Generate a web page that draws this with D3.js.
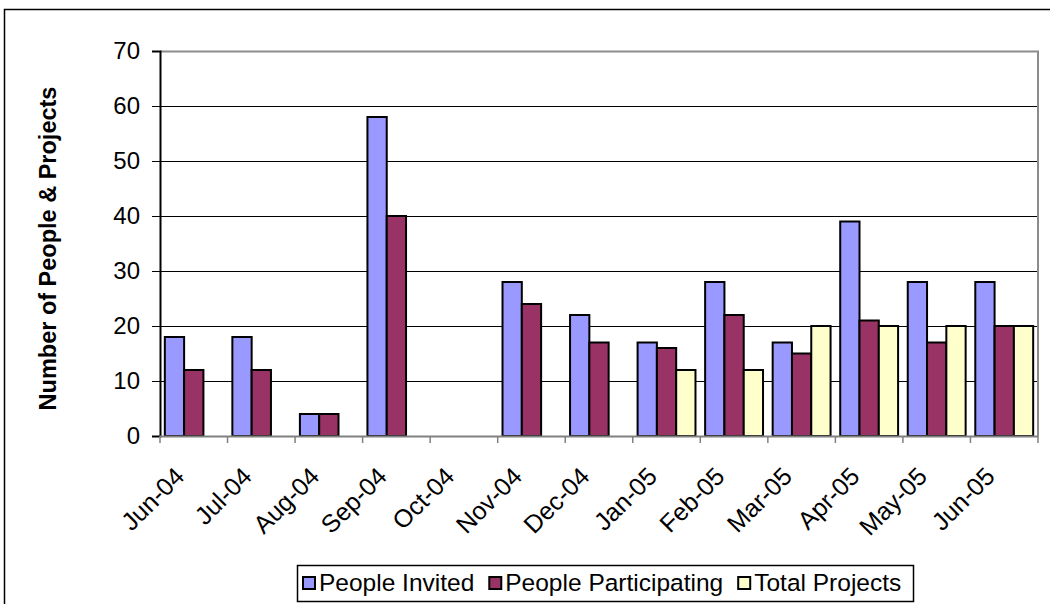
<!DOCTYPE html>
<html>
<head>
<meta charset="utf-8">
<script src="https://cdn.jsdelivr.net/npm/d3@7"></script>
<style>
  body { margin: 0; background: #fff; }
  svg { display: block; font-family: Arial, "Liberation Sans", sans-serif; }
</style>
</head>
<body>
<svg id="chart" width="1050" height="604"></svg>
<script>
// chart data
var months = ["Jun-04", "Jul-04", "Aug-04", "Sep-04", "Oct-04", "Nov-04", "Dec-04",
  "Jan-05", "Feb-05", "Mar-05", "Apr-05", "May-05", "Jun-05"];
var seriesNames = ["People Invited", "People Participating", "Total Projects"];
var invited = [18, 18, 4, 58, null, 28, 22, 17, 28, 17, 39, 28, 28];
var participating = [12, 12, 4, 40, null, 24, 17, 16, 22, 15, 21, 17, 20];
var projects = [null, null, null, null, null, null, null, 12, 12, 20, 20, 20, 20];
var yTicks = [0, 10, 20, 30, 40, 50, 60, 70];

var colors = ["#9999ff", "#993366", "#ffffcc"];
var seriesValues = [invited, participating, projects];

var svg = d3.select("#chart");

// outer frame (only top and left edges visible)
svg.append("path")
  .attr("d", "M4.5,604 L4.5,9.5 L1050,9.5")
  .attr("fill", "none")
  .attr("stroke", "#000")
  .attr("stroke-width", 1.5);

var plot = { left: 160, right: 1038, top: 51, bottom: 436 };

var x = d3.scaleBand()
  .domain(months)
  .range([plot.left, plot.right])
  .paddingInner(0)
  .paddingOuter(0);

var x1 = d3.scaleBand()
  .domain(d3.range(seriesNames.length))
  .range([0, x.bandwidth()])
  .paddingOuter(0.25) // 45px of bars in a 67.5px group
  .paddingInner(0);

var y = d3.scaleLinear()
  .domain([0, 70])
  .range([plot.bottom, plot.top]);

// gridlines
svg.append("g")
  .selectAll("line")
  .data(yTicks.filter(d => d > 0 && d < 70))
  .join("line")
  .attr("x1", plot.left)
  .attr("x2", plot.right)
  .attr("y1", d => Math.round(y(d)) + 0.5)
  .attr("y2", d => Math.round(y(d)) + 0.5)
  .attr("stroke", "#000")
  .attr("stroke-width", 1);

// plot area border top + right (grey)
svg.append("path")
  .attr("d", "M" + plot.left + "," + (plot.top + 0.5) + " L" + plot.right + "," + (plot.top + 0.5) +
    " L" + plot.right + "," + plot.bottom)
  .attr("fill", "none")
  .attr("stroke", "#8c8c8c")
  .attr("stroke-width", 2);

// bars
var groups = svg.append("g")
  .selectAll("g")
  .data(months)
  .join("g")
  .attr("transform", d => "translate(" + x(d) + ",0)");

groups.selectAll("rect")
  .data((m, i) => seriesValues.map((s, k) => ({ k: k, v: s[i] })).filter(d => d.v != null && d.v > 0))
  .join("rect")
  .attr("x", d => x1(d.k))
  .attr("y", d => y(d.v))
  .attr("width", x1.bandwidth())
  .attr("height", d => y(0) - y(d.v))
  .attr("fill", d => colors[d.k])
  .attr("stroke", "#000")
  .attr("stroke-width", 2);

// y axis
var yAxis = svg.append("g")
  .attr("transform", "translate(" + plot.left + ",0)")
  .call(d3.axisLeft(y).tickValues(yTicks).tickSize(8).tickPadding(12));
yAxis.select(".domain").attr("stroke", "#000").attr("stroke-width", 2);
yAxis.selectAll(".tick line").attr("stroke", "#000");
yAxis.selectAll("text")
  .attr("font-size", 24)
  .attr("fill", "#000");

// x axis line and ticks at category boundaries
svg.append("line")
  .attr("x1", plot.left)
  .attr("x2", plot.right)
  .attr("y1", plot.bottom + 0.5)
  .attr("y2", plot.bottom + 0.5)
  .attr("stroke", "#808080")
  .attr("stroke-width", 2);

svg.append("g")
  .selectAll("line")
  .data(months.concat(["end"]))
  .join("line")
  .attr("x1", (d, i) => plot.left + i * x.step())
  .attr("x2", (d, i) => plot.left + i * x.step())
  .attr("y1", plot.bottom)
  .attr("y2", plot.bottom + 7)
  .attr("stroke", "#808080")
  .attr("stroke-width", 1.5);

// rotated month labels
svg.append("g")
  .selectAll("text")
  .data(months)
  .join("text")
  .attr("transform", d => "translate(" + (x(d) + x.bandwidth() / 2 - 8) + "," + (plot.bottom + 42) + ") rotate(-45)")
  .attr("text-anchor", "end")
  .attr("font-size", 25)
  .attr("fill", "#000")
  .text(d => d);

// y axis title
svg.append("text")
  .attr("transform", "translate(56," + 248.5 + ") rotate(-90)")
  .attr("text-anchor", "middle")
  .attr("font-size", 23.5)
  .attr("font-weight", "bold")
  .text("Number of People & Projects");

// legend
var legend = svg.append("g").attr("transform", "translate(297,565)");
legend.append("rect")
  .attr("x", 0.5)
  .attr("y", 0.5)
  .attr("width", 616)
  .attr("height", 36)
  .attr("fill", "#fff")
  .attr("stroke", "#000")
  .attr("stroke-width", 1.5);

// lay items out one after another using the measured text widths
var cursor = 6;
seriesNames.forEach(function(name, i) {
  var item = legend.append("g").attr("transform", "translate(" + cursor + ",0)");
  item.append("rect")
    .attr("x", 0)
    .attr("y", 12)
    .attr("width", 12)
    .attr("height", 12)
    .attr("fill", colors[i])
    .attr("stroke", "#000")
    .attr("stroke-width", 2);
  var t = item.append("text")
    .attr("x", 16)
    .attr("y", 26)
    .attr("font-size", 24.5)
    .text(name);
  cursor += 16 + t.node().getComputedTextLength() + 15;
});
</script>
</body>
</html>
